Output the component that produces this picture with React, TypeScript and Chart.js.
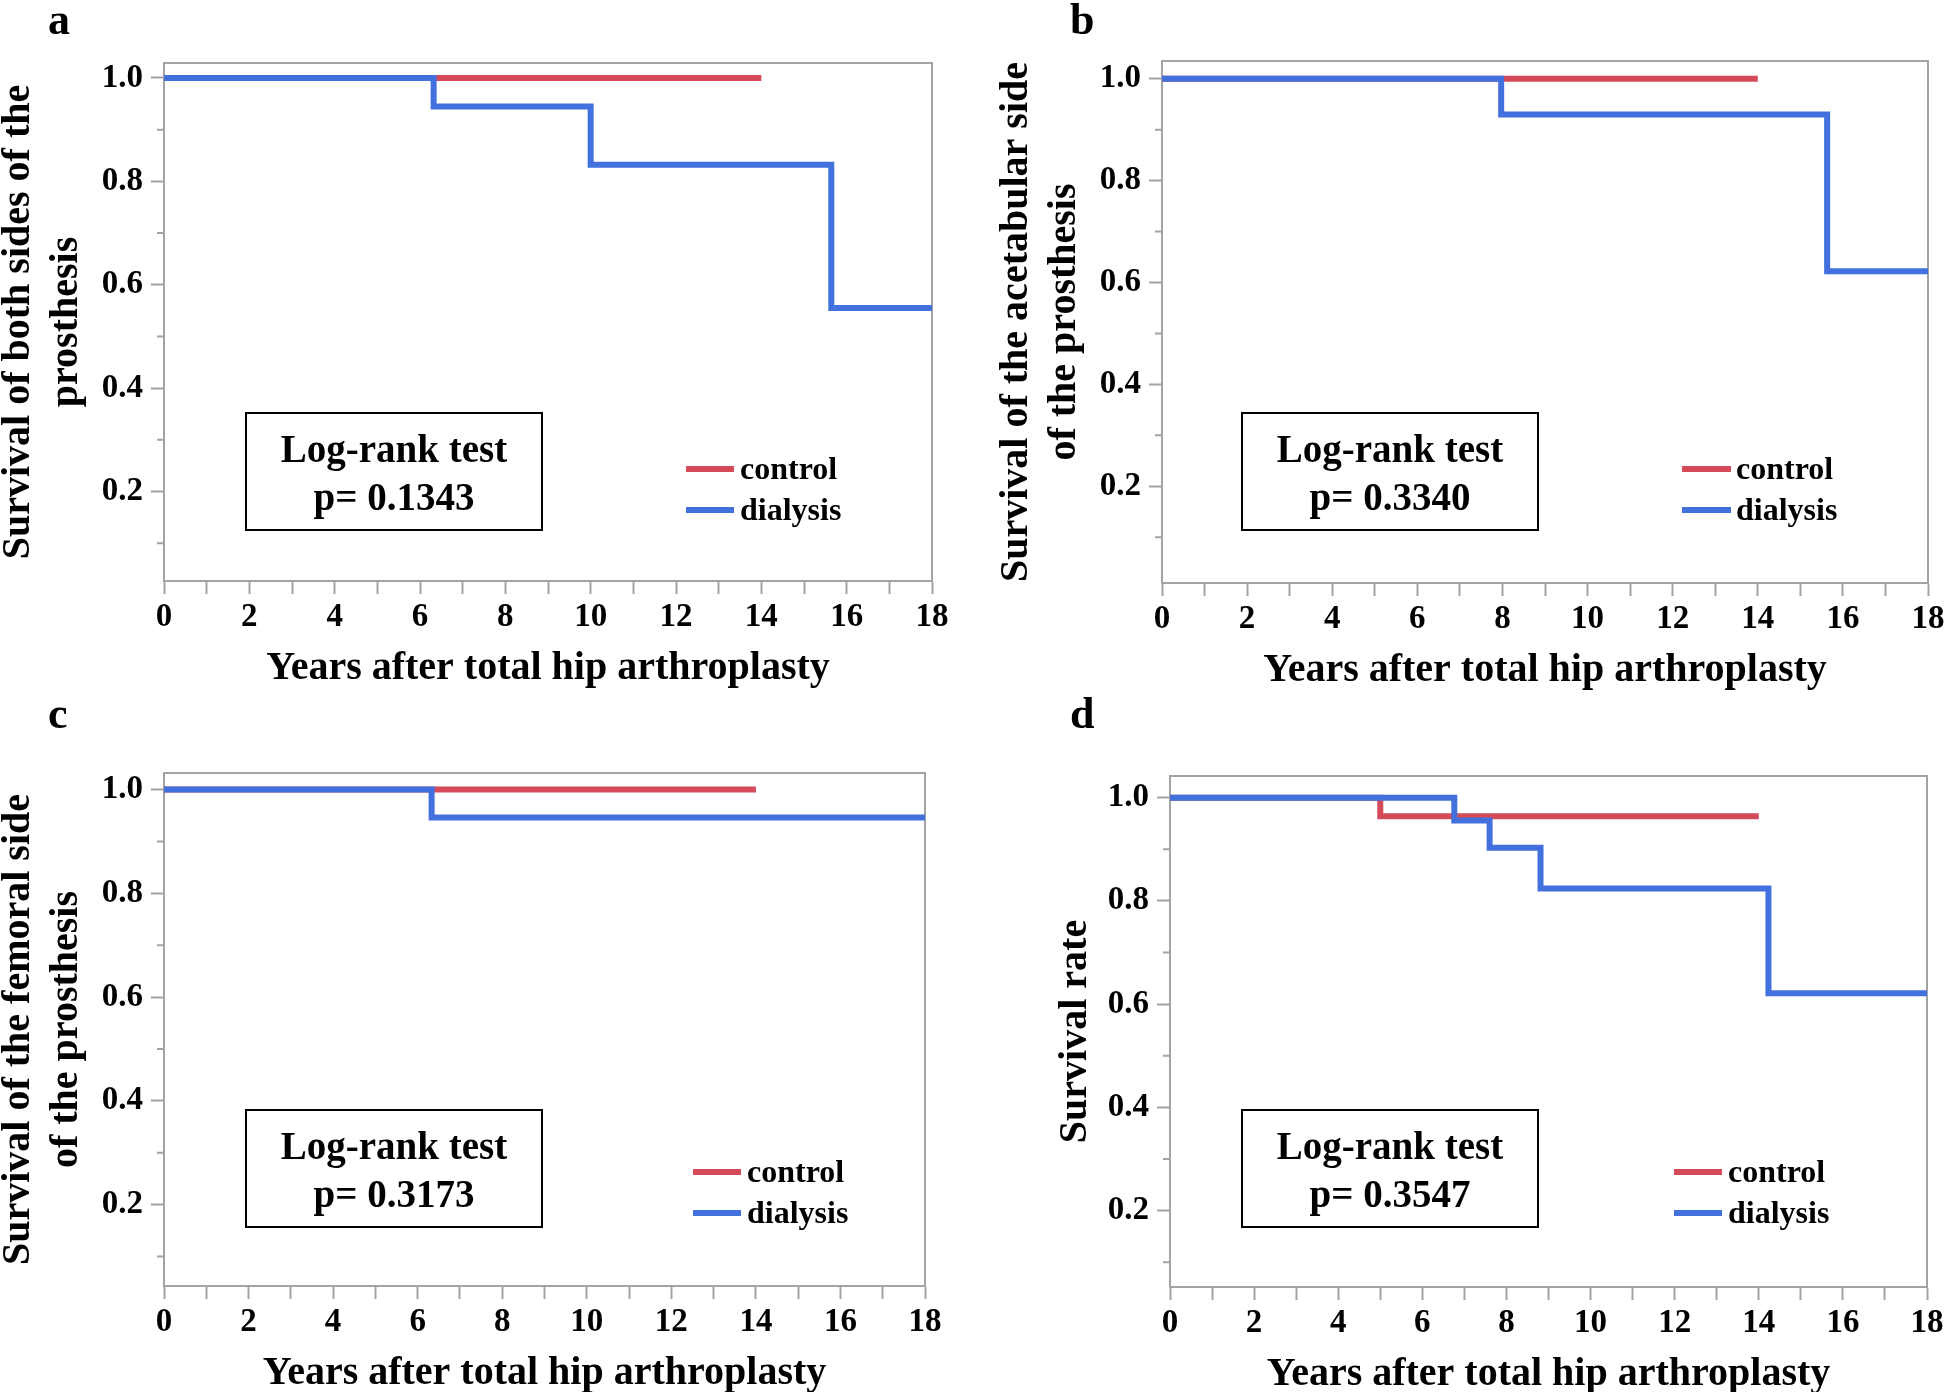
import React, { useEffect, useRef } from 'react';
import { Chart, registerables } from 'chart.js';

Chart.register(...registerables);

// ---------- data ----------
const X_TICKS = [0, 1, 2, 3, 4, 5, 6, 7, 8, 9, 10, 11, 12, 13, 14, 15, 16, 17, 18];
const Y_TICKS = [0.1, 0.2, 0.3, 0.4, 0.5, 0.6, 0.7, 0.8, 0.9, 1.0];
const SERIES_NAMES = ['control', 'dialysis'];
const PANEL_LETTERS = ['a', 'b', 'c', 'd'];
const X_TITLE = 'Years after total hip arthroplasty';
const Y_TITLES = [
  ['Survival of both sides of the', 'prosthesis'],
  ['Survival of the acetabular side', 'of the prosthesis'],
  ['Survival of the femoral side', 'of the prosthesis'],
  ['Survival rate'],
];
const TEST_NAME = 'Log-rank test';
const P_VALUES = ['0.1343', '0.3340', '0.3173', '0.3547'];

const A_CONTROL_YEARS = [0, 14];
const A_CONTROL_SURV = [1, 1];
const A_DIALYSIS_YEARS = [0, 6.32, 10.0, 15.64, 18];
const A_DIALYSIS_SURV = [1, 0.945, 0.832, 0.555, 0.555];

const B_CONTROL_YEARS = [0, 14];
const B_CONTROL_SURV = [1, 1];
const B_DIALYSIS_YEARS = [0, 7.97, 15.63, 18];
const B_DIALYSIS_SURV = [1, 0.93, 0.622, 0.622];

const C_CONTROL_YEARS = [0, 14];
const C_CONTROL_SURV = [1, 1];
const C_DIALYSIS_YEARS = [0, 6.33, 18];
const C_DIALYSIS_SURV = [1, 0.946, 0.946];

const D_CONTROL_YEARS = [0, 5.0, 14];
const D_CONTROL_SURV = [1, 0.964, 0.964];
const D_DIALYSIS_YEARS = [0, 6.76, 7.6, 8.81, 14.23, 18];
const D_DIALYSIS_SURV = [1, 0.956, 0.903, 0.824, 0.621, 0.621];

const CONTROL_YEARS = [A_CONTROL_YEARS, B_CONTROL_YEARS, C_CONTROL_YEARS, D_CONTROL_YEARS];
const CONTROL_SURV = [A_CONTROL_SURV, B_CONTROL_SURV, C_CONTROL_SURV, D_CONTROL_SURV];
const DIALYSIS_YEARS = [A_DIALYSIS_YEARS, B_DIALYSIS_YEARS, C_DIALYSIS_YEARS, D_DIALYSIS_YEARS];
const DIALYSIS_SURV = [A_DIALYSIS_SURV, B_DIALYSIS_SURV, C_DIALYSIS_SURV, D_DIALYSIS_SURV];

// ---------- layout & style ----------
const PAGE_W = 1944;
const PAGE_H = 1392;
const CANVAS_W = 1980;
const FONT = '"Liberation Serif", "Times New Roman", serif';
const RED = '#d44a58';
const BLUE = '#4271dd';
const GRAY = '#a3a3a3';

type Layout = {
  left: number; right: number; top: number; bottom: number;
  yMin: number; yMax: number;
  letterX: number; letterY: number;
  yTitleX: number[];
  box: number[];
  legend: number[];
};

const LAYOUTS: Layout[] = [
  { left: 164, right: 932, top: 63, bottom: 581, yMin: 0.027, yMax: 1.029, letterX: 48, letterY: 34,
    yTitleX: [29, 77], box: [246, 413, 296, 117], legend: [686, 734, 740, 469, 510] },
  { left: 1162, right: 1928, top: 61, bottom: 583, yMin: 0.010, yMax: 1.035, letterX: 1070, letterY: 34,
    yTitleX: [1027, 1075], box: [1242, 413, 296, 117], legend: [1682, 1731, 1736, 469, 510] },
  { left: 164, right: 925, top: 773, bottom: 1286, yMin: 0.043, yMax: 1.032, letterX: 48, letterY: 728,
    yTitleX: [29, 77], box: [246, 1110, 296, 117], legend: [693, 741, 747, 1172, 1213] },
  { left: 1170, right: 1927, top: 776, bottom: 1287, yMin: 0.052, yMax: 1.042, letterX: 1070, letterY: 728,
    yTitleX: [1086], box: [1242, 1110, 296, 117], legend: [1674, 1722, 1728, 1172, 1213] },
];

const isMajorY = (v: number) => Math.round(v * 10) % 2 === 0;

function buildChart(canvas: HTMLCanvasElement, idx: number) {
  const L = LAYOUTS[idx];
  const colors = [RED, BLUE];

  const decor = {
    id: 'decor' + idx,
    beforeDatasetsDraw(chart: any) {
      const ctx = chart.ctx;
      const a = chart.chartArea;
      ctx.save();
      ctx.strokeStyle = GRAY;
      ctx.lineWidth = 2;
      ctx.beginPath();
      ctx.moveTo(a.left, a.top);
      ctx.lineTo(a.right, a.top);
      ctx.lineTo(a.right, a.bottom);
      ctx.stroke();
      // minor y ticks (shorter)
      const ys = chart.scales.y;
      ctx.beginPath();
      Y_TICKS.filter((v) => !isMajorY(v)).forEach((v) => {
        const py = ys.getPixelForValue(v);
        ctx.moveTo(a.left - 7, py);
        ctx.lineTo(a.left, py);
      });
      ctx.stroke();
      ctx.restore();
    },
    afterDraw(chart: any) {
      const ctx = chart.ctx;
      const a = chart.chartArea;
      ctx.save();
      ctx.fillStyle = '#000';
      // panel letter
      ctx.font = `bold 44px ${FONT}`;
      ctx.textAlign = 'left';
      ctx.textBaseline = 'alphabetic';
      ctx.fillText(PANEL_LETTERS[idx], L.letterX, L.letterY);
      // x title
      ctx.font = `bold 40px ${FONT}`;
      ctx.textAlign = 'center';
      ctx.textBaseline = 'middle';
      ctx.fillText(X_TITLE, (a.left + a.right) / 2, a.bottom + 88);
      // y title
      const cy = (a.top + a.bottom) / 2;
      Y_TITLES[idx].forEach((line, i) => {
        ctx.save();
        ctx.translate(L.yTitleX[i], cy);
        ctx.rotate(-Math.PI / 2);
        ctx.textAlign = 'center';
        ctx.textBaseline = 'alphabetic';
        ctx.fillText(line, 0, 0);
        ctx.restore();
      });
      // log-rank box
      const [bx, by, bw, bh] = L.box;
      ctx.fillStyle = '#fff';
      ctx.fillRect(bx, by, bw, bh);
      ctx.strokeStyle = '#000';
      ctx.lineWidth = 2;
      ctx.strokeRect(bx, by, bw, bh);
      ctx.fillStyle = '#000';
      ctx.font = `bold 39px ${FONT}`;
      ctx.textAlign = 'center';
      ctx.textBaseline = 'middle';
      ctx.fillText(TEST_NAME, bx + bw / 2, by + 39);
      ctx.fillText('p= ' + P_VALUES[idx], bx + bw / 2, by + 87);
      // legend
      const [lx1, lx2, tx, ly1, ly2] = L.legend;
      [ly1, ly2].forEach((ly, i) => {
        ctx.strokeStyle = colors[i];
        ctx.lineWidth = 6;
        ctx.lineCap = 'butt';
        ctx.beginPath();
        ctx.moveTo(lx1, ly);
        ctx.lineTo(lx2, ly);
        ctx.stroke();
        ctx.fillStyle = '#000';
        ctx.font = `bold 32px ${FONT}`;
        ctx.textAlign = 'left';
        ctx.textBaseline = 'middle';
        ctx.fillText(chart.data.datasets[i].label, tx, ly + 2);
      });
      ctx.restore();
    },
  };

  const toPts = (xs: number[], ys: number[]) => xs.map((x, i) => ({ x, y: ys[i] }));

  return new Chart(canvas, {
    type: 'line',
    data: {
      datasets: [
        {
          label: SERIES_NAMES[0],
          data: toPts(CONTROL_YEARS[idx], CONTROL_SURV[idx]),
          borderColor: RED,
          backgroundColor: RED,
          borderWidth: 6,
          stepped: 'before',
          pointRadius: 0,
          fill: false,
          borderJoinStyle: 'miter',
          borderCapStyle: 'butt',
          order: 1,
        },
        {
          label: SERIES_NAMES[1],
          data: toPts(DIALYSIS_YEARS[idx], DIALYSIS_SURV[idx]),
          borderColor: BLUE,
          backgroundColor: BLUE,
          borderWidth: 6,
          stepped: 'before',
          pointRadius: 0,
          fill: false,
          borderJoinStyle: 'miter',
          borderCapStyle: 'butt',
          order: 0,
        },
      ],
    },
    options: {
      animation: false,
      responsive: false,
      devicePixelRatio: 1,
      events: [],
      layout: { padding: { left: 0, top: L.top, right: CANVAS_W - L.right, bottom: 0 } },
      plugins: { legend: { display: false }, tooltip: { enabled: false }, title: { display: false } },
      scales: {
        x: {
          type: 'linear',
          position: 'bottom',
          min: 0,
          max: 18,
          afterBuildTicks: (s: any) => { s.ticks = X_TICKS.map((v) => ({ value: v })); },
          afterFit: (s: any) => { s.height = PAGE_H - L.bottom; },
          ticks: {
            autoSkip: false,
            maxRotation: 0,
            minRotation: 0,
            padding: 4,
            color: '#000',
            font: { family: FONT, size: 33, weight: 'bold' },
            callback: (v: any) => (Math.round(v) % 2 === 0 ? String(Math.round(v)) : ''),
          },
          grid: { drawOnChartArea: false, drawTicks: true, tickLength: 13, tickWidth: 2, tickColor: GRAY },
          border: { display: true, color: GRAY, width: 2 },
        },
        y: {
          type: 'linear',
          position: 'left',
          min: L.yMin,
          max: L.yMax,
          afterBuildTicks: (s: any) => { s.ticks = Y_TICKS.map((v) => ({ value: v })); },
          afterFit: (s: any) => { s.width = L.left; },
          ticks: {
            autoSkip: false,
            padding: 8,
            color: '#000',
            font: { family: FONT, size: 33, weight: 'bold' },
            callback: (v: any) => (isMajorY(v) ? Number(v).toFixed(1) : ''),
          },
          grid: {
            drawOnChartArea: false,
            drawTicks: true,
            tickLength: 13,
            tickWidth: 2,
            tickColor: (c: any) => (c.tick && isMajorY(c.tick.value) ? GRAY : 'rgba(0,0,0,0)'),
          },
          border: { display: true, color: GRAY, width: 2 },
        },
      },
    },
    plugins: [decor],
  } as any);
}

export default function App() {
  const refs = [useRef<HTMLCanvasElement>(null), useRef<HTMLCanvasElement>(null), useRef<HTMLCanvasElement>(null), useRef<HTMLCanvasElement>(null)];

  useEffect(() => {
    const charts = refs.map((r, i) => (r.current ? buildChart(r.current, i) : null));
    return () => {
      charts.forEach((c) => c && c.destroy());
    };
  }, []);

  return (
    <div
      style={{
        position: 'absolute',
        left: 0,
        top: 0,
        width: PAGE_W,
        height: PAGE_H,
        overflow: 'hidden',
        background: '#fff',
      }}
    >
      {refs.map((r, i) => (
        <canvas
          key={i}
          ref={r}
          width={CANVAS_W}
          height={PAGE_H}
          style={{ position: 'absolute', left: 0, top: 0, width: CANVAS_W, height: PAGE_H }}
        />
      ))}
    </div>
  );
}
